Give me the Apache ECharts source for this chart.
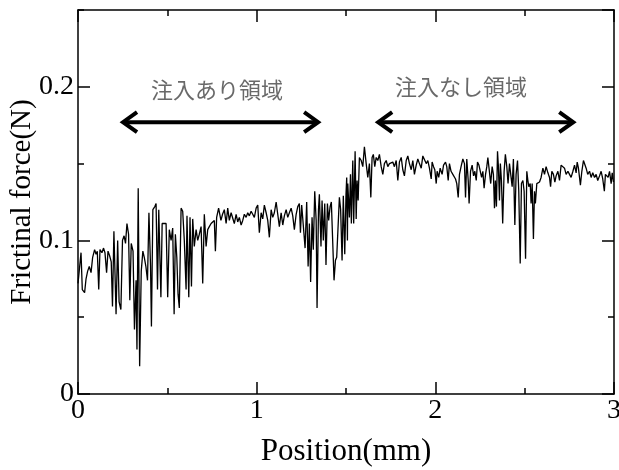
<!DOCTYPE html>
<html>
<head>
<meta charset="utf-8">
<script src="https://cdn.jsdelivr.net/npm/echarts@6/dist/echarts.min.js"></script>
<style>
  html, body { margin: 0; padding: 0; background: #fff; }
  #chart { width: 619px; height: 470px; }
</style>
</head>
<body>
<div id="chart"></div>
<script>
// position (mm) and frictional force (N)
const position = [
  0.000, 0.017, 0.024, 0.037, 0.045, 0.054, 0.063, 0.073, 0.082, 0.093, 0.101, 0.108, 0.116, 0.123, 0.134, 0.143,
  0.151, 0.160, 0.168, 0.177, 0.186, 0.193, 0.201, 0.213, 0.222, 0.230, 0.240, 0.249, 0.258, 0.266, 0.274, 0.283,
  0.290, 0.298, 0.308, 0.316, 0.325, 0.330, 0.337, 0.345, 0.354, 0.363, 0.371, 0.380, 0.389, 0.397, 0.406, 0.411,
  0.419, 0.430, 0.437, 0.445, 0.452, 0.464, 0.471, 0.493,
  0.502, 0.511, 0.521, 0.530, 0.538, 0.545, 0.553, 0.560, 0.567, 0.577, 0.586, 0.595, 0.605, 0.610, 0.620, 0.627,
  0.635, 0.642, 0.651, 0.661, 0.670, 0.679, 0.689, 0.698, 0.707, 0.717, 0.726, 0.735, 0.745, 0.754, 0.763, 0.769,
  0.776, 0.787, 0.800, 0.809, 0.819, 0.829, 0.838, 0.847, 0.857, 0.866, 0.875, 0.885, 0.894, 0.903, 0.913, 0.922,
  0.931, 0.941, 0.950, 0.959, 0.969, 0.978, 0.987, 0.997,
  1.006, 1.015, 1.025, 1.034, 1.043, 1.053, 1.062, 1.071, 1.081, 1.090, 1.099, 1.109, 1.118, 1.127, 1.137, 1.146,
  1.155, 1.165, 1.174, 1.183, 1.193, 1.202, 1.211, 1.221, 1.230, 1.239, 1.245, 1.252, 1.262, 1.271, 1.280, 1.288,
  1.295, 1.302, 1.310, 1.317, 1.325, 1.333, 1.338, 1.346, 1.351, 1.360, 1.366, 1.373, 1.381, 1.388, 1.396, 1.403,
  1.411, 1.418, 1.426, 1.433, 1.441, 1.448, 1.455, 1.463, 1.470, 1.478, 1.485, 1.493, 1.500, 1.504, 1.508,
  1.510, 1.519, 1.525, 1.530, 1.538, 1.543, 1.551, 1.557, 1.562, 1.568, 1.575, 1.585, 1.594, 1.603, 1.613, 1.622,
  1.631, 1.639, 1.646, 1.653, 1.661, 1.669, 1.678, 1.687, 1.697, 1.706, 1.715, 1.725, 1.734, 1.743, 1.753, 1.762,
  1.771, 1.781, 1.790, 1.799, 1.809, 1.818, 1.827, 1.837, 1.846, 1.855, 1.865, 1.874, 1.883, 1.893, 1.902, 1.911,
  1.921, 1.930, 1.939, 1.949, 1.958, 1.967, 1.977, 1.982, 1.990, 1.997, 2.005,
  2.010, 2.019, 2.027, 2.038, 2.046, 2.057, 2.064, 2.072, 2.079, 2.088, 2.098, 2.107, 2.113, 2.120, 2.128, 2.135,
  2.144, 2.154, 2.163, 2.169, 2.176, 2.184, 2.189, 2.197, 2.206, 2.214, 2.221, 2.229, 2.236, 2.244, 2.251, 2.259,
  2.266, 2.273, 2.281, 2.288, 2.294, 2.303, 2.310, 2.318, 2.325, 2.331, 2.336, 2.342, 2.348, 2.353, 2.359, 2.364,
  2.370, 2.377, 2.385, 2.392, 2.400, 2.407, 2.415, 2.422, 2.430, 2.437, 2.445, 2.452, 2.460, 2.467, 2.475, 2.482,
  2.490, 2.497, 2.505, 2.512,
  2.518, 2.523, 2.531, 2.536, 2.542, 2.549, 2.555, 2.560, 2.568, 2.575, 2.583, 2.592, 2.602, 2.611, 2.620, 2.630,
  2.639, 2.645, 2.652, 2.661, 2.669, 2.676, 2.686, 2.695, 2.704, 2.714, 2.723, 2.732, 2.742, 2.751, 2.760, 2.770,
  2.779, 2.788, 2.794, 2.801, 2.807, 2.812, 2.820, 2.829, 2.837, 2.844, 2.853, 2.863, 2.872, 2.881, 2.891, 2.900,
  2.909, 2.919, 2.928, 2.937, 2.946, 2.952, 2.960, 2.967, 2.975, 2.984, 2.990, 2.997
];
const force = [
  0.072, 0.092, 0.068, 0.066, 0.075, 0.080, 0.083, 0.079, 0.089, 0.094, 0.091, 0.093, 0.068, 0.094, 0.092, 0.095,
  0.092, 0.079, 0.093, 0.090, 0.086, 0.057, 0.106, 0.052, 0.100, 0.060, 0.055, 0.100, 0.103, 0.098, 0.111, 0.104,
  0.061, 0.098, 0.093, 0.042, 0.074, 0.029, 0.134, 0.018, 0.080, 0.093, 0.089, 0.083, 0.074, 0.118, 0.083, 0.044,
  0.120, 0.122, 0.124, 0.068, 0.120, 0.063, 0.111, 0.111,
  0.063, 0.107, 0.100, 0.108, 0.052, 0.104, 0.089, 0.065, 0.056, 0.121, 0.119, 0.100, 0.068, 0.116, 0.063, 0.115,
  0.070, 0.114, 0.096, 0.107, 0.100, 0.104, 0.109, 0.072, 0.117, 0.096, 0.107, 0.109, 0.111, 0.111, 0.113, 0.093,
  0.115, 0.121, 0.113, 0.117, 0.120, 0.111, 0.121, 0.113, 0.118, 0.117, 0.111, 0.117, 0.112, 0.115, 0.110, 0.113,
  0.117, 0.115, 0.118, 0.116, 0.119, 0.117, 0.115, 0.121,
  0.123, 0.105, 0.118, 0.114, 0.123, 0.118, 0.113, 0.102, 0.120, 0.115, 0.118, 0.125, 0.117, 0.109, 0.118, 0.110,
  0.116, 0.120, 0.115, 0.118, 0.121, 0.116, 0.107, 0.117, 0.122, 0.124, 0.105, 0.123, 0.122, 0.095, 0.125, 0.083,
  0.111, 0.073, 0.115, 0.094, 0.132, 0.113, 0.056, 0.120, 0.130, 0.096, 0.126, 0.100, 0.124, 0.084, 0.124, 0.113,
  0.122, 0.125, 0.126, 0.074, 0.087, 0.089, 0.090, 0.128, 0.120, 0.087, 0.129, 0.091, 0.130, 0.141, 0.100,
  0.137, 0.115, 0.143, 0.111, 0.152, 0.111, 0.158, 0.114, 0.139, 0.126, 0.154, 0.152, 0.148, 0.161, 0.150, 0.141,
  0.150, 0.128, 0.154, 0.156, 0.148, 0.154, 0.152, 0.156, 0.148, 0.143, 0.150, 0.152, 0.148, 0.150, 0.149, 0.151,
  0.148, 0.152, 0.139, 0.151, 0.154, 0.146, 0.142, 0.152, 0.155, 0.150, 0.146, 0.152, 0.143, 0.149, 0.153, 0.150,
  0.147, 0.155, 0.156, 0.150, 0.152, 0.147, 0.140, 0.151, 0.148, 0.146, 0.137,
  0.145, 0.141, 0.147, 0.143, 0.149, 0.151, 0.148, 0.139, 0.150, 0.145, 0.143, 0.144, 0.140, 0.137, 0.128, 0.143,
  0.148, 0.153, 0.150, 0.128, 0.153, 0.139, 0.124, 0.145, 0.149, 0.142, 0.145, 0.139, 0.151, 0.149, 0.148, 0.141,
  0.145, 0.134, 0.143, 0.148, 0.154, 0.153, 0.137, 0.148, 0.143, 0.121, 0.139, 0.122, 0.158, 0.148, 0.126, 0.150,
  0.139, 0.111, 0.145, 0.156, 0.148, 0.137, 0.150, 0.143, 0.135, 0.153, 0.110, 0.143, 0.152, 0.132, 0.085, 0.137,
  0.139, 0.132, 0.088, 0.145,
  0.139, 0.135, 0.137, 0.124, 0.137, 0.101, 0.132, 0.124, 0.137, 0.136, 0.138, 0.141, 0.147, 0.143, 0.148, 0.144,
  0.141, 0.135, 0.145, 0.143, 0.138, 0.142, 0.145, 0.139, 0.149, 0.150, 0.147, 0.143, 0.145, 0.143, 0.141, 0.145,
  0.149, 0.144, 0.151, 0.147, 0.141, 0.136, 0.145, 0.152, 0.153, 0.147, 0.143, 0.145, 0.141, 0.144, 0.141, 0.143,
  0.139, 0.142, 0.145, 0.140, 0.132, 0.143, 0.144, 0.141, 0.145, 0.137, 0.144, 0.138
];

// region annotations: [start, end, force level] and label anchors
const arrowSpans = [[0.252, 1.344, 0.177], [1.680, 2.772, 0.177]];
const regionNames = ['注入あり領域', '注入なし領域'];
const regionLabelPos = [[0.778, 0.198], [2.144, 0.200]];

const serif = '"Times New Roman", "Liberation Serif", serif';
const black = '#000';

const trace = position.map((p, i) => [p, force[i]]);

// one axis per tick length (major / minor), bottom+top and left+right
function xAx(pos, interval, len, main) {
  return {
    type: 'value', position: pos, min: 0, max: 3, interval: interval,
    axisLine: { show: main, onZero: false, lineStyle: { color: black, width: 1.5 } },
    axisTick: { show: true, inside: true, length: len, lineStyle: { color: black, width: 1.5 } },
    axisLabel: { show: main && pos === 'bottom', color: black, fontSize: 28, fontFamily: serif, margin: 3 },
    splitLine: { show: false }
  };
}
function yAx(pos, interval, len, main) {
  return {
    type: 'value', position: pos, min: 0, max: 0.25, interval: interval,
    axisLine: { show: main, onZero: false, lineStyle: { color: black, width: 1.5 } },
    axisTick: { show: true, inside: true, length: len, lineStyle: { color: black, width: 1.5 } },
    axisLabel: { show: main && pos === 'left', showMaxLabel: false, color: black, fontSize: 28, fontFamily: serif, margin: 4 },
    splitLine: { show: false }
  };
}

const xAxes = [xAx('bottom', 1, 12, true), xAx('bottom', 0.5, 6, false), xAx('top', 1, 12, true), xAx('top', 0.5, 6, false)];
xAxes[0].name = 'Position(mm)';
xAxes[0].nameLocation = 'middle';
xAxes[0].nameGap = 42;
xAxes[0].nameMoveOverlap = false;
xAxes[0].nameTextStyle = { color: black, fontSize: 31, fontFamily: serif };

const yAxes = [yAx('left', 0.1, 12, true), yAx('left', 0.05, 6, false), yAx('right', 0.1, 12, true), yAx('right', 0.05, 6, false)];
yAxes[0].name = 'Frictinal force(N)';
yAxes[0].nameLocation = 'middle';
yAxes[0].nameGap = 41;
yAxes[0].nameMoveOverlap = false;
yAxes[0].nameTextStyle = { color: black, fontSize: 29, fontFamily: serif };

const chart = echarts.init(document.getElementById('chart'));
chart.setOption({
  animation: false,
  backgroundColor: '#fff',
  grid: { left: 78, right: 5, top: 10, bottom: 76, outerBoundsMode: 'none', containLabel: false },
  xAxis: xAxes,
  yAxis: yAxes,
  series: [
    {
      type: 'line',
      data: trace,
      showSymbol: false,
      symbol: 'none',
      lineStyle: { color: black, width: 1.3 },
      z: 3
    },
    {
      type: 'custom',
      data: arrowSpans,
      silent: true,
      renderItem: function (params, api) {
        const a = api.coord([api.value(0), api.value(2)]);
        const b = api.coord([api.value(1), api.value(2)]);
        const w = 14, h = 10;
        const st = { stroke: black, lineWidth: 4, fill: null };
        return {
          type: 'group',
          children: [
            { type: 'line', shape: { x1: a[0] + 2, y1: a[1], x2: b[0] - 2, y2: b[1] }, style: st },
            { type: 'polyline', shape: { points: [[a[0] + w, a[1] - h], [a[0], a[1]], [a[0] + w, a[1] + h]] }, style: st },
            { type: 'polyline', shape: { points: [[b[0] - w, b[1] - h], [b[0], b[1]], [b[0] - w, b[1] + h]] }, style: st }
          ]
        };
      },
      z: 4
    },
    {
      type: 'scatter',
      symbolSize: 0,
      silent: true,
      data: regionNames.map((n, i) => ({ name: n, value: regionLabelPos[i] })),
      label: {
        show: true, position: 'inside', formatter: '{b}',
        color: '#444', fontSize: 22, fontFamily: '"Noto Sans CJK JP", sans-serif'
      },
      z: 4
    }
  ]
});
</script>
</body>
</html>
